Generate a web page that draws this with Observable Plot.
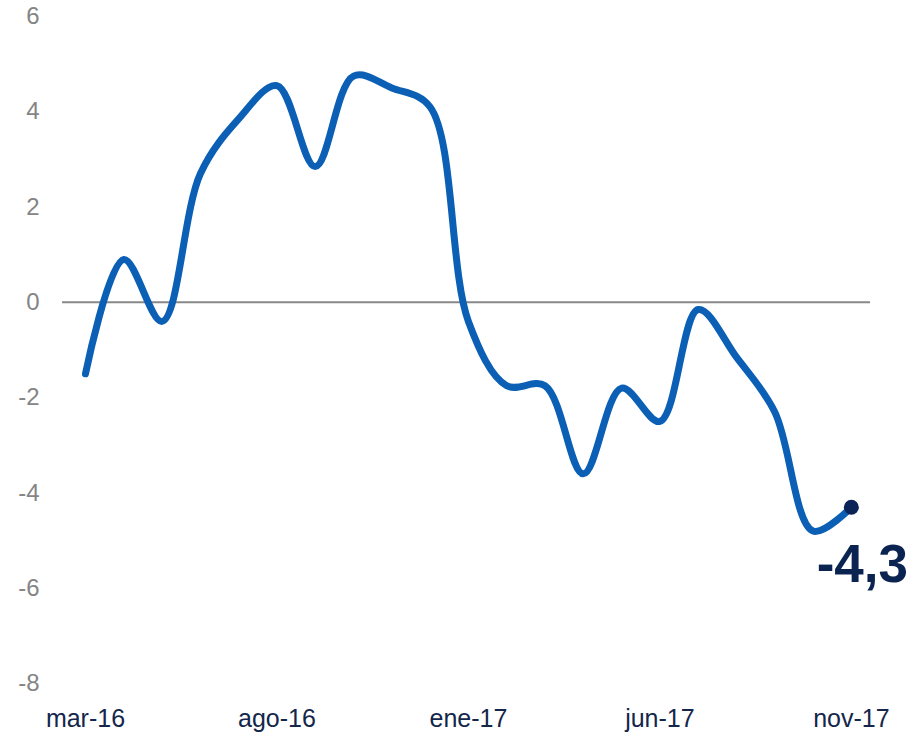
<!DOCTYPE html>
<html>
<head>
<meta charset="utf-8">
<script src="https://cdn.jsdelivr.net/npm/d3@7"></script>
<script src="https://cdn.jsdelivr.net/npm/@observablehq/plot@0.6"></script>
<style>
  html, body { margin: 0; padding: 0; background: #fff; }
  #chart { width: 918px; height: 733px; }
</style>
</head>
<body>
<div id="chart"></div>
<script>
const months = ["mar-16","abr-16","may-16","jun-16","jul-16","ago-16","sep-16","oct-16","nov-16","dic-16",
                "ene-17","feb-17","mar-17","abr-17","may-17","jun-17","jul-17","ago-17","sep-17","oct-17","nov-17"];
const values = [-1.5, 0.9, -0.4, 2.7, 3.85, 4.55, 2.85, 4.75, 4.5, 4.1,
                -0.4, -1.75, -1.75, -3.6, -1.8, -2.5, -0.15, -1.15, -2.3, -4.8, -4.3];
const tickMonths = ["mar-16","ago-16","ene-17","jun-17","nov-17"];
const yTicks = [-8, -6, -4, -2, 0, 2, 4, 6];
const lastLabel = "-4,3";

const data = months.map((m, i) => ({i, month: m, value: values[i]}));
const last = data[data.length - 1];

const chart = Plot.plot({
  width: 918,
  height: 733,
  marginLeft: 62,
  marginRight: 48,
  marginTop: 16,
  marginBottom: 50,
  style: {fontFamily: "'Liberation Sans', Arial, sans-serif", background: "#fff"},
  x: {domain: [-0.6, 20.5]},
  y: {domain: [-8, 6]},
  marks: [
    Plot.axisY({ticks: yTicks, tickSize: 0, tickPadding: 23, fontSize: 24, color: "#858585", label: null, tickFormat: d => String(d)}),
    Plot.axisX({ticks: tickMonths.map(m => months.indexOf(m)), tickFormat: i => months[i], tickSize: 0, tickPadding: 26, fontSize: 25, color: "#14264a", label: null}),
    Plot.ruleY([0], {stroke: "#888888", strokeWidth: 2}),
    Plot.line(data, {x: "i", y: "value", curve: "catmull-rom", stroke: "#0b5fb5", strokeWidth: 7, strokeLinecap: "round", strokeLinejoin: "round"}),
    Plot.dot([last], {x: "i", y: "value", r: 7.5, fill: "#0b2357", stroke: "none"}),
    Plot.text([last], {x: "i", y: "value", text: () => lastLabel, dx: 11, dy: 58, fontSize: 53, fontWeight: "bold", fill: "#0b2350"})
  ]
});
document.getElementById("chart").appendChild(chart);
</script>
</body>
</html>
